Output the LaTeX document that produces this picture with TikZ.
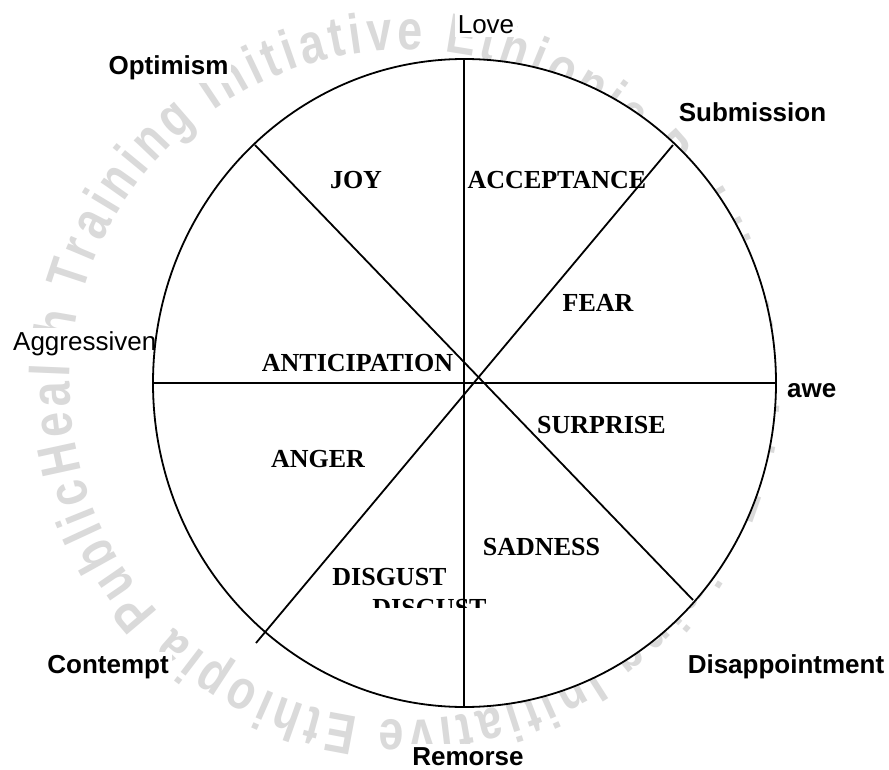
\documentclass[tikz,border=0pt]{standalone}
\usepackage{fontspec}
\setmainfont{Liberation Sans}
\newfontfamily\tnr{Liberation Serif}
\newfontfamily\wmf[FakeStretch=0.8]{Liberation Sans}
\usetikzlibrary{decorations.text}
\definecolor{wm}{RGB}{218,218,218}
\newcommand\wmfont{\wmf\bfseries\fontsize{56}{56}\selectfont}
\begin{document}
\begin{tikzpicture}[x=1pt,y=-1pt,
  outer/.style={font=\fontsize{26}{30}\selectfont, inner sep=3pt, fill=white, anchor=base},
  outerb/.style={outer, font=\fontsize{26}{30}\selectfont\bfseries},
  emo/.style={font=\tnr\bfseries\fontsize{26}{30}\selectfont, inner sep=0pt, anchor=base},
  ln/.style={line width=1.8pt, black}]
\useasboundingbox (0,0) rectangle (889,770);
\fill[white] (0,0) rectangle (889,770);
% watermark
\path[decorate, decoration={text along path, text color=wm, text align={fit to path},
  text={|\wmfont|Health Training Initiative Ethiopia Public Health Training Initiative Ethiopia Public }}]
  (405,385) ++(165:335) arc[start angle=165, end angle=524, radius=335];
% wheel
\coordinate (c) at (464.5,383);
\fill[white] (c) ellipse [x radius=311.5, y radius=324];
\coordinate (top) at (464,59);
\coordinate (bot) at (464,707);
\coordinate (lft) at (153,383);
\coordinate (rgt) at (776,383);
\coordinate (a1) at (255,145);
\coordinate (a2) at (693,600);
\coordinate (b1) at (673,145);
\coordinate (b2) at (256,643);
% outer labels
\node[outer] (love) at (486,34) {Love};
\node[outerb] (opt) at (168.5,75) {Optimism};
\node[outerb] (sub) at (752.5,122) {Submission};
\node[outer, anchor=base west] (agg) at (10,350) {Aggressiven};
\node[outerb, anchor=base west] (awe) at (784,397) {awe};
\node[outerb] (con) at (108,673) {Contempt};
\node[outerb] (dis) at (786,673) {Disappointment};
\node[outerb] (rem) at (468,765) {Remorse};
\draw[ln] (c) ellipse [x radius=311.5, y radius=324];
% emotions
\node[emo] (joy) at (356,189) {JOY};
\node[emo] (acc) at (557,189) {ACCEPTANCE};
\node[emo] (fear) at (598,311) {FEAR};
\node[emo] (ant) at (357.5,371) {ANTICIPATION};
\node[emo] (sur) at (601.5,433) {SURPRISE};
\node[emo] (ang) at (318,467) {ANGER};
\node[emo] (sad) at (541.5,555) {SADNESS};
\node[emo] (dsg) at (389.5,585) {DISGUST};
\begin{scope}
  \clip (360,590) rectangle (500,607);
  \node[emo] (dsg2) at (429.5,616) {DISGUST};
\end{scope}
% spokes
\draw[ln] (top) -- (bot);
\draw[ln] (lft) -- (rgt);
\draw[ln] (a1) -- (a2);
\draw[ln] (b1) -- (b2);
\end{tikzpicture}
\end{document}
